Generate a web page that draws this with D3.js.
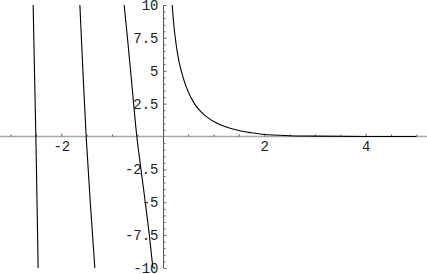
<!DOCTYPE html>
<html>
<head>
<meta charset="utf-8">
<script src="https://cdn.jsdelivr.net/npm/d3@7"></script>
<style>
  body { margin: 0; background: #fff; }
  svg { display: block; }
</style>
</head>
<body>
<svg id="chart"></svg>
<script>
// Curve samples (x, y)
const branch1X = [-2.556, -2.53, -2.503, -2.48, -2.458];
const branch1Y = [10, 5, 0, -5, -10];

const branch2X = [-1.635, -1.575, -1.511, -1.43, -1.34];
const branch2Y = [10, 5, 0, -5, -10];

const branch3X = [-0.762, -0.697, -0.635, -0.575, -0.512, -0.43, -0.345, -0.265, -0.195];
const branch3Y = [10, 7.5, 5, 2.5, 0, -2.5, -5, -7.5, -10];

const branch4X = [0.185, 0.22, 0.26, 0.30, 0.35, 0.40, 0.47, 0.55, 0.65, 0.75, 0.9, 1.05, 1.25, 1.5, 1.75, 2.0, 2.5, 3.0, 4.0, 5.0];
const branch4Y = [10, 8.4, 7.1, 6.1, 5.2, 4.5, 3.7, 3.0, 2.35, 1.9, 1.4, 1.05, 0.72, 0.45, 0.28, 0.15, 0.06, 0.025, 0.005, 0.001];

// Ticks
const xMajor = [-2, 2, 4];
const xMinor = [-3, -2.5, -1.5, -1, -0.5, 0.5, 1, 1.5, 2.5, 3, 3.5, 4.5, 5];
const yMajor = [-10, -7.5, -5, -2.5, 2.5, 5, 7.5, 10];
const yMinor = [-9.5, -9, -8.5, -8, -7, -6.5, -6, -5.5, -4.5, -4, -3.5, -3, -2, -1.5, -1, -0.5,
                0.5, 1, 1.5, 2, 3, 3.5, 4, 4.5, 5.5, 6, 6.5, 7, 8, 8.5, 9, 9.5];

const width = 427;
const height = 274;

const svg = d3.select("#chart").attr("width", width).attr("height", height);

const x = d3.scaleLinear().domain([-3.21, 5.21]).range([0, width]);
const y = d3.scaleLinear().domain([-10, 10]).range([268, 5]);

const fmt = (d) => String(d);

// x axis (light grey, ticks pointing up)
const xAxisG = svg.append("g").attr("transform", "translate(0," + y(0) + ")");
xAxisG.append("line")
  .attr("x1", 0).attr("x2", width)
  .attr("stroke", "#a8a8a8").attr("stroke-width", 1.6);
xAxisG.append("g")
  .call(d3.axisBottom(x).tickValues(xMinor).tickSizeInner(-2).tickSizeOuter(0).tickFormat(""))
  .call((g) => g.select(".domain").remove());
xAxisG.append("g")
  .call(d3.axisBottom(x).tickValues(xMajor).tickSizeInner(-3).tickSizeOuter(0).tickPadding(5).tickFormat(fmt))
  .call((g) => g.select(".domain").remove());

// y axis (ticks pointing right, labels on the left)
const yAxisG = svg.append("g").attr("transform", "translate(" + (Math.round(x(0)) + 0.5) + ",0)");
yAxisG.append("line")
  .attr("y1", y(10)).attr("y2", y(-10))
  .attr("stroke", "#555").attr("stroke-width", 1);
yAxisG.append("g")
  .call(d3.axisLeft(y).tickValues(yMinor).tickSizeInner(-2).tickSizeOuter(0).tickFormat(""))
  .call((g) => g.select(".domain").remove());
yAxisG.append("g")
  .call(d3.axisLeft(y).tickValues(yMajor).tickSizeInner(-3).tickSizeOuter(0).tickPadding(5).tickFormat(fmt))
  .call((g) => g.select(".domain").remove());

svg.selectAll(".tick line").attr("stroke", "#666");
svg.selectAll(".tick text")
  .attr("font-family", "'Liberation Mono', 'DejaVu Sans Mono', monospace")
  .attr("font-size", 14)
  .attr("fill", "#222");

// Curves
svg.append("clipPath").attr("id", "clip")
  .append("rect").attr("x", 0).attr("y", y(10)).attr("width", width).attr("height", y(-10) - y(10));

const lineY = d3.line().x((d) => x(d[0])).y((d) => y(d[1])).curve(d3.curveMonotoneY);
const lineX = d3.line().x((d) => x(d[0])).y((d) => y(d[1])).curve(d3.curveMonotoneX);

const zip = (a, b) => a.map((v, i) => [v, b[i]]);

const plot = svg.append("g").attr("clip-path", "url(#clip)");
[[branch1X, branch1Y], [branch2X, branch2Y], [branch3X, branch3Y]].forEach(([bx, by]) => {
  plot.append("path")
    .datum(zip(bx, by).sort((a, b) => a[1] - b[1]))
    .attr("d", lineY)
    .attr("fill", "none")
    .attr("stroke", "#000")
    .attr("stroke-width", 1.1);
});
plot.append("path")
  .datum(zip(branch4X, branch4Y))
  .attr("d", lineX)
  .attr("fill", "none")
  .attr("stroke", "#000")
  .attr("stroke-width", 1.1);
</script>
</body>
</html>
